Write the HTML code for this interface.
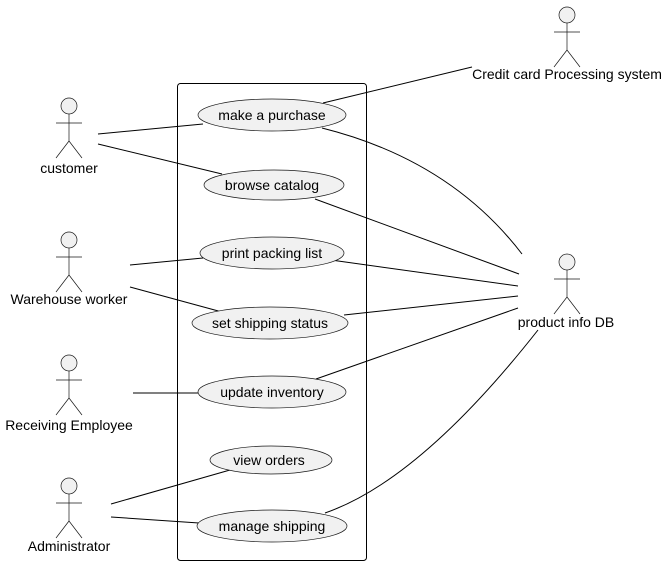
<!DOCTYPE html>
<html><head><style>body{margin:0;background:#fff}</style></head><body>
<svg width="667" height="565" xmlns="http://www.w3.org/2000/svg" font-family="Liberation Sans, sans-serif" font-size="14">
<rect x="177.5" y="83.5" width="189" height="477" rx="3" fill="none" stroke="#000" stroke-width="1"/>
<g stroke="#000" fill="none" stroke-width="1">
<line x1="98" y1="134" x2="203" y2="124"/>
<line x1="98" y1="144" x2="222" y2="174"/>
<line x1="130" y1="265" x2="203" y2="258"/>
<line x1="130" y1="287" x2="222" y2="312"/>
<line x1="133" y1="393" x2="198" y2="393"/>
<line x1="111" y1="504" x2="230" y2="470"/>
<line x1="111" y1="517" x2="199" y2="523"/>
<line x1="323" y1="103" x2="472" y2="67"/>
<path d="M322 128 Q450 160 522 254"/>
<line x1="315" y1="199" x2="519" y2="274"/>
<line x1="331" y1="260" x2="518" y2="286"/>
<line x1="344" y1="315" x2="518" y2="296"/>
<line x1="316" y1="379" x2="518" y2="308"/>
<path d="M325 513 Q420 480 538 330"/>
</g>
<g fill="#f1f1f1" stroke="#181818" stroke-width="0.7">
<ellipse cx="272" cy="115" rx="74" ry="16"/>
<ellipse cx="274" cy="185" rx="70" ry="15"/>
<ellipse cx="272" cy="253" rx="72" ry="16"/>
<ellipse cx="270" cy="323" rx="78" ry="16"/>
<ellipse cx="272" cy="392" rx="74" ry="16"/>
<ellipse cx="271" cy="460" rx="61" ry="14"/>
<ellipse cx="272" cy="526" rx="75" ry="16"/>
</g>
<g text-anchor="middle" fill="#000">
<text x="272" y="120">make a purchase</text>
<text x="272" y="190">browse catalog</text>
<text x="272" y="258">print packing list</text>
<text x="270" y="328">set shipping status</text>
<text x="272" y="397">update inventory</text>
<text x="269" y="465">view orders</text>
<text x="272" y="531">manage shipping</text>
</g>
<defs>
<g id="a" stroke="#181818" stroke-width="0.7"><circle cx="0" cy="0" r="8" fill="#f1f1f1"/><path d="M0 8V35M-13 17H13M-13 52L0 35L13 52" fill="none"/></g>
</defs>
<use href="#a" x="567" y="15"/>
<use href="#a" x="69" y="106"/>
<use href="#a" x="69" y="240"/>
<use href="#a" x="69" y="363"/>
<use href="#a" x="69" y="486"/>
<use href="#a" x="567" y="262"/>
<g text-anchor="middle" fill="#000">
<text x="567" y="79">Credit card Processing system</text>
<text x="69" y="173">customer</text>
<text x="69" y="304">Warehouse worker</text>
<text x="69" y="430">Receiving Employee</text>
<text x="69" y="551">Administrator</text>
<text x="566" y="327">product info DB</text>
</g>
</svg>
</body></html>
